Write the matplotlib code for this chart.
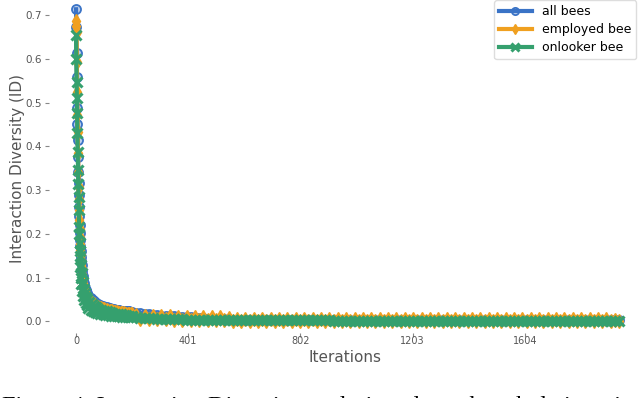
import numpy as np
import matplotlib
matplotlib.use("Agg")
import matplotlib.pyplot as plt

iters_head = [0, 1, 2, 3, 4, 5, 6, 7, 8, 9, 10,
              11, 12, 13, 14, 15, 16, 17, 18, 19, 20,
              22, 24, 26, 28, 30, 32, 34, 36, 38, 40,
              44, 48, 52, 56, 60, 64, 68, 72, 76, 80,
              85, 90, 95, 100, 105, 110, 115, 120, 125, 130, 135, 140,
              145, 150, 155, 160, 165, 170, 175, 180, 185, 190, 195, 200]
iters_tail = list(range(215, 1941, 15))
iterations = np.array(iters_head + iters_tail)

all_bees = [
    .713, .673, .613, .558, .487, .451, .414, .375, .341, .316, .288,
    .262, .240, .220, .202, .186, .172, .160, .148, .138, .129,
    .115, .104, .095, .088, .082, .077, .073, .069, .066, .063,
    .059, .056, .053, .050, .048, .046, .044, .042, .040, .039,
    .037, .036, .035, .034, .033, .032, .031, .030, .029, .0285, .028, .027,
    .0265, .026, .0255, .025, .0245, .024, .0238, .0235, .0232, .023, .0228, .0225,
    # tail
    .0205, .0190, .0178, .0165, .0155, .0145, .0135, .0128, .0122, .0117,
    .0112, .0108, .0100, .0092, .0085, .0078, .0072, .0066, .0061, .0057,
    .0053, .0050, .0047, .0045, .0043, .0042, .0041, .0040, .0040, .0039,
    .0039, .0038, .0038, .0037, .0037, .0036, .0036, .0036, .0035, .0035,
    .0035, .0034, .0034, .0034, .0033, .0033, .0033, .0033, .0032, .0032,
    .0032, .0032, .0031, .0031, .0031, .0031, .0031, .0030, .0030, .0030,
    .0030, .0030, .0030, .0029, .0029, .0029, .0029, .0029, .0029, .0028,
    .0028, .0028, .0028, .0028, .0028, .0028, .0027, .0027, .0027, .0027,
    .0027, .0027, .0027, .0027, .0026, .0026, .0026, .0026, .0026, .0026,
    .0026, .0026, .0025, .0025, .0025, .0025, .0025, .0025, .0025, .0025,
    .0025, .0024, .0024, .0024, .0024, .0024, .0024, .0024, .0024, .0024,
    .0024, .0023, .0023, .0023, .0023, .0023]

employed_bee = [
    .686, .675, .660, .593, .524, .471, .432, .384, .341, .307, .280,
    .254, .232, .212, .194, .178, .164, .152, .141, .131, .122,
    .108, .097, .088, .081, .075, .070, .066, .062, .059, .056,
    .052, .049, .046, .043, .041, .039, .037, .035, .034, .032,
    .031, .030, .029, .028, .027, .026, .025, .024, .0235, .023, .022, .0215,
    .021, .0205, .020, .0195, .019, .0185, .018, .0175, .017, .0168, .0165, .016,
    # tail
    .0140, .0060, .0132, .0055, .0125, .0050, .0120, .0046, .0115, .0042,
    .0110, .0040, .0106, .0038, .0103, .0036, .0100, .0034, .0098, .0032,
    .0096, .0030, .0070, .0010, .0062, .0008, .0060, .0006, .0058, .0005,
    .0058, .0005, .0057, .0005, .0057, .0005, .0057, .0005, .0056, .0005,
    .0056, .0005, .0056, .0004, .0055, .0004, .0055, .0004, .0055, .0004,
    .0054, .0004, .0054, .0004, .0054, .0003, .0053, .0003, .0053, .0003,
    .0053, .0003, .0052, .0003, .0052, .0002, .0052, .0002, .0051, .0002,
    .0051, .0002, .0051, .0002, .0050, .0002, .0050, .0001, .0050, .0001,
    .0050, .0001, .0049, .0001, .0049, .0001, .0049, .0001, .0049, .0000,
    .0048, .0000, .0048, .0000, .0048, .0000, .0048, .0000, .0047, .0000,
    .0047, .0000, .0047, .0000, .0047, .0000, .0046, .0000, .0046, .0000,
    .0046, .0000, .0046, .0000, .0045, .0020]

onlooker_bee = [
    .654, .600, .547, .510, .476, .430, .387, .346, .315, .284, .255,
    .200, .215, .160, .180, .125, .150, .100, .128, .085, .110,
    .070, .090, .058, .075, .048, .064, .042, .056, .037, .051,
    .030, .045, .026, .040, .024, .036, .022, .032, .020, .029,
    .018, .027, .016, .025, .015, .023, .014, .021, .013, .020, .0125, .018,
    .012, .017, .0115, .016, .011, .015, .0105, .014, .010, .013, .010, .012,
    # tail
    .0095, .0088, .0082, .0076, .0071, .0066, .0062, .0058, .0055, .0052,
    .0049, .0047, .0045, .0043, .0041, .0040, .0038, .0037, .0036, .0035,
    .0034, .0033, .0032, .0032, .0031, .0030, .0030, .0029, .0029, .0028,
    .0028, .0027, .0027, .0027, .0026, .0026, .0026, .0025, .0025, .0025,
    .0024, .0024, .0024, .0023, .0023, .0023, .0023, .0022, .0022, .0022,
    .0022, .0021, .0021, .0021, .0021, .0020, .0020, .0020, .0020, .0020,
    .0019, .0019, .0019, .0019, .0019, .0018, .0018, .0018, .0018, .0018,
    .0018, .0017, .0017, .0017, .0017, .0017, .0017, .0016, .0016, .0016,
    .0016, .0016, .0016, .0016, .0015, .0015, .0015, .0015, .0015, .0015,
    .0015, .0015, .0014, .0014, .0014, .0014, .0014, .0014, .0014, .0014,
    .0014, .0013, .0013, .0013, .0013, .0013, .0013, .0013, .0013, .0013,
    .0013, .0012, .0012, .0012, .0012, .0012]

xticks = [0, 401, 802, 1203, 1604]
yticks = [0.0, 0.1, 0.2, 0.3, 0.4, 0.5, 0.6, 0.7]

blue = "#3a73c6"
orange = "#f0a020"
green = "#35a06e"
gray = "#555555"

fig = plt.figure(figsize=(6.4, 3.98), dpi=100)
ax = fig.add_axes([49 / 640, 61 / 398, 591 / 640, 337 / 398])

ax.plot(iterations, all_bees, color=blue, lw=3, marker="o", ms=6.5,
        mfc=(0.23, 0.45, 0.78, 0.35), mec=blue, mew=1.3, label="all bees")
ax.plot(iterations, employed_bee, color=orange, lw=3, marker="d", ms=7,
        mfc=orange, mec=orange, label="employed bee")
ax.plot(iterations, onlooker_bee, color=green, lw=3, marker="x", ms=7,
        mew=2.2, label="onlooker bee")

ax.set_xlim(-96.5, 2015)
ax.set_ylim(-0.0354, 0.7342)
ax.set_xticks(xticks)
ax.set_xticklabels([str(t) for t in xticks])
ax.set_yticks(yticks)
ax.set_yticklabels([f"{t:.1f}" for t in yticks])
for s in ax.spines.values():
    s.set_visible(False)
ax.tick_params(axis="x", labelsize=7, length=3, pad=-1, direction="in")
ax.tick_params(axis="y", labelsize=7.5, length=3, pad=2)
ax.tick_params(colors="#888888", which="both")
for lab in ax.get_xticklabels() + ax.get_yticklabels():
    lab.set_color(gray)

ax.set_xlabel("Iterations", fontsize=11, color=gray, labelpad=3)
ax.set_ylabel("Interaction Diversity (ID)", fontsize=11, color=gray, labelpad=0.5)

leg = ax.legend(loc="upper right", bbox_to_anchor=(636 / 640, 1.0),
                bbox_transform=fig.transFigure, borderaxespad=0, fontsize=9,
                labelspacing=0.4, handlelength=2.6, framealpha=1, edgecolor="#dddddd",
                fancybox=True, markerscale=0.8)

# paper caption, cut off at the bottom edge as in the source image
fig.text(2 / 640, 1 - 412 / 398, "Figure 4: Interaction Diversity evolution along the whole iterations",
         family="Liberation Serif", fontsize=17.5, va="baseline", ha="left", color="black")

fig.savefig("out.png", dpi=100)
